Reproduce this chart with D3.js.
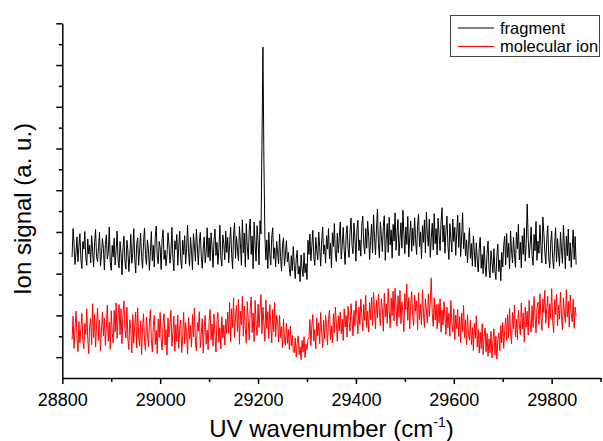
<!DOCTYPE html>
<html>
<head>
<meta charset="utf-8">
<script src="https://cdn.jsdelivr.net/npm/d3@7"></script>
<style>
  html, body { margin: 0; padding: 0; background: #fff; }
  svg { display: block; font-family: "Liberation Sans", Arial, sans-serif; }
</style>
</head>
<body>
<svg id="chart" width="603" height="441"></svg>
<script>
// ---- data ----
const seriesNames = ["fragment", "molecular ion"];
const wnStart = 28820, wnStep = 2; // sampling grid (cm^-1)
const xMajorTicks = [28800, 29000, 29200, 29400, 29600, 29800];
const xMinorTicks = [28900, 29100, 29300, 29500, 29700, 29900];
const yMajorTicks = [50, 150, 250, 350, 450, 550, 650, 750, 850];
const yMinorTicks = [100, 200, 300, 400, 500, 600, 700, 800];

const fragment = [
290,358,321,272,300,338,279,315,346,284,
262,327,309,351,288,270,333,297,318,276,
341,303,266,325,356,291,279,312,349,268,
296,334,311,259,320,343,285,301,362,277,
258,318,290,335,271,306,352,283,264,327,
299,247,312,340,278,261,330,305,255,293,
344,275,298,358,287,252,320,336,270,309,
347,291,263,325,359,296,272,331,310,258,
302,351,281,318,266,339,364,290,274,327,
313,260,335,355,284,306,269,296,348,321,
275,299,361,287,257,329,308,344,270,316,
352,283,262,330,296,341,273,311,366,300,
268,337,305,259,346,319,280,357,314,271,
324,349,292,263,310,338,276,301,360,289,
336,281,348,315,265,330,357,294,325,272,
309,366,290,268,343,322,283,352,301,337,
276,320,361,298,262,344,372,287,339,306,
281,363,322,270,379,300,347,266,370,314,
284,355,381,296,340,262,374,318,280,365,
329,271,377,
345,560,793,520,340,
283,331,262,349,297,271,338,360,286,312,266,327,
300,274,345,291,256,318,336,269,297,329,278,
301,262,244,293,257,315,270,238,286,306,249,268,231,295,261,243,300,252,274,236,
330,296,345,281,318,354,290,270,337,305,
283,350,312,268,326,362,297,319,275,341,
309,358,286,323,264,348,315,370,296,279,
347,300,336,374,285,318,361,306,272,344,
365,310,289,352,383,318,298,371,334,280,
355,378,305,331,292,366,388,320,297,358,
311,376,340,284,329,369,300,391,336,295,
357,405,322,288,374,341,303,363,389,282,
333,370,301,385,319,355,287,368,328,396,
306,349,380,293,332,372,311,402,345,298,
362,320,387,290,338,376,304,359,317,384,
331,296,366,393,314,350,286,365,325,379,
300,398,344,316,381,289,336,371,307,394,
322,358,295,383,340,305,374,408,326,366,
299,353,388,318,284,370,335,302,381,327,
361,294,347,390,313,372,291,338,396,310,
348,293,331,276,319,360,287,322,268,340,
303,266,324,282,254,311,337,263,296,250,
316,270,243,299,328,261,240,305,279,252,
310,258,236,292,321,255,283,233,301,266,
318,340,271,346,289,323,262,352,304,276,
337,298,265,349,310,368,283,325,264,341,
296,359,280,322,
417,
335,288,319,362,294,
270,344,305,375,282,328,299,367,318,276,
386,
348,302,273,331,365,290,264,322,352,
287,262,318,360,279,334,301,268,349,309,
275,366,316,262,340,293,357,281,324,265,
310,355,284,339,272
];

const molecularIon = [
92,148,71,120,160,98,63,135,84,118,
155,89,70,131,104,166,95,58,127,143,
80,178,
97,152,74,126,168,90,139,66,115,158,
101,144,78,122,175,88,134,69,161,109,
84,
162,110,180,95,148,176,104,166,82,151,185,117,96,170,
94,68,140,117,60,152,83,125,158,72,
168,
101,77,137,56,121,154,88,66,146,109,
75,133,163,92,62,126,150,80,114,59,
141,97,157,
90,67,131,154,79,116,55,144,98,124,
162,76,107,148,64,128,87,151,71,119,
139,61,100,157,82,133,105,57,146,93,
127,74,152,99,
168,
86,65,133,112,159,73,104,142,60,122,
150,81,115,68,136,164,91,129,76,153,
102,62,134,157,85,120,70,147,96,127,
79,141,106,
158,107,181,86,166,121,192,97,149,174,
112,188,81,160,127,196,100,172,118,83,
183,138,91,167,194,109,156,87,186,130,
102,177,121,163,
200,
106,170,132,88,187,119,159,95,176,128,
84,164,111,181,99,150,
135,86,150,97,123,72,141,90,78,131,
83,116,68,124,77,102,64,
60,96,50,84,101,56,75,44,90,62,99,49,81,67,93,
96,140,78,127,152,88,116,70,144,101,
132,82,157,110,73,138,94,150,121,79,
140,163,92,125,84,154,108,170,131,88,149,112,
158,106,141,90,166,122,150,98,172,134,
112,178,143,101,162,124,185,147,106,170,
128,189,152,113,176,138,198,121,160,110,181,
140,194,126,205,163,118,186,144,201,158,
125,190,166,112,203,146,178,131,214,162,
120,192,149,208,137,
215,
170,124,197,145,210,130,183,156,111,202,164,
225,
138,193,118,179,207,149,126,199,160,185,
115,204,140,176,128,212,155,121,190,163,
132,201,147,182,
240,
154,124,192,139,176,
118,178,132,190,110,163,127,183,144,104,
170,120,155,100,186,131,111,166,92,151,
118,164,100,147,84,156,112,174,96,140,80,152,107,91,
138,80,121,66,131,95,149,74,117,60,
110,70,130,56,101,120,63,107,52,94,
60,112,48,89,118,55,100,45,92,108,
65,126,84,133,71,114,144,90,
152,96,166,108,82,157,118,175,99,141,
92,162,128,104,180,117,156,86,170,122,
160,103,186,130,110,173,121,195,151,108,169,
182,128,202,149,114,190,157,210,131,166,
196,120,178,143,214,138,109,188,152,200,
125,175,141,206,150,116,192,158,133,212,
146,184,122,199,155,135,189,119,170,148
];

const seriesColors = ["#000000", "#ff0000"];

// ---- chart ----
const svg = d3.select("#chart");
const x = d3.scaleLinear().domain([28800, 29900]).range([62.3, 600.6]);
const y = d3.scaleLinear().domain([0, 850]).range([378, 23.3]);

const toPts = arr => arr.map((v, i) => [wnStart + i * wnStep, v]);
const line = d3.line().x(d => x(d[0])).y(d => y(d[1]));

[fragment, molecularIon].forEach((arr, k) => {
  svg.append("path")
    .datum(toPts(arr))
    .attr("fill", "none")
    .attr("stroke", seriesColors[k])
    .attr("stroke-width", 1)
    .attr("stroke-linejoin", "round")
    .attr("d", line);
});

// x axis
const gx = svg.append("g").attr("transform", "translate(0,378)");
gx.call(d3.axisBottom(x).tickValues(xMajorTicks).tickFormat(d3.format("d")).tickSize(6).tickSizeOuter(0).tickPadding(9));
gx.append("g").call(d3.axisBottom(x).tickValues(xMinorTicks).tickFormat("").tickSize(4).tickSizeOuter(0))
  .select(".domain").remove();
gx.selectAll("text").attr("font-size", 18).attr("fill", "#000").attr("font-family", "'Liberation Sans', Arial, sans-serif");

// y axis
const gy = svg.append("g").attr("transform", "translate(62.3,0)");
gy.call(d3.axisLeft(y).tickValues(yMajorTicks).tickFormat("").tickSize(6).tickSizeOuter(0));
gy.append("g").call(d3.axisLeft(y).tickValues(yMinorTicks).tickFormat("").tickSize(3.5).tickSizeOuter(0))
  .select(".domain").remove();

svg.selectAll(".domain, .tick line").attr("stroke", "#000").attr("stroke-width", 1.5);

// axis titles
const xt = svg.append("text")
  .attr("x", (62.3 + 600.6) / 2).attr("y", 437)
  .attr("text-anchor", "middle").attr("font-size", 24).attr("fill", "#000");
xt.append("tspan").text("UV wavenumber (cm");
xt.append("tspan").attr("font-size", 14).attr("dy", -10).text("-1");
xt.append("tspan").attr("dy", 10).text(")");

svg.append("text")
  .attr("transform", "translate(31,209) rotate(-90)")
  .attr("text-anchor", "middle").attr("font-size", 24).attr("fill", "#000")
  .text("Ion signal (a. u.)");

// legend
const lg = svg.append("g");
lg.append("rect").attr("x", 450.5).attr("y", 15.5).attr("width", 149).attr("height", 41)
  .attr("fill", "#fff").attr("stroke", "#444").attr("stroke-width", 1);
seriesNames.forEach((name, k) => {
  const yy = 28 + k * 18.5;
  lg.append("line").attr("x1", 458).attr("x2", 494).attr("y1", yy).attr("y2", yy)
    .attr("stroke", seriesColors[k]).attr("stroke-width", 1);
  lg.append("text").attr("x", 500).attr("y", yy + 5.5)
    .attr("font-size", 16.5).attr("fill", "#000").text(name);
});
</script>
</body>
</html>
